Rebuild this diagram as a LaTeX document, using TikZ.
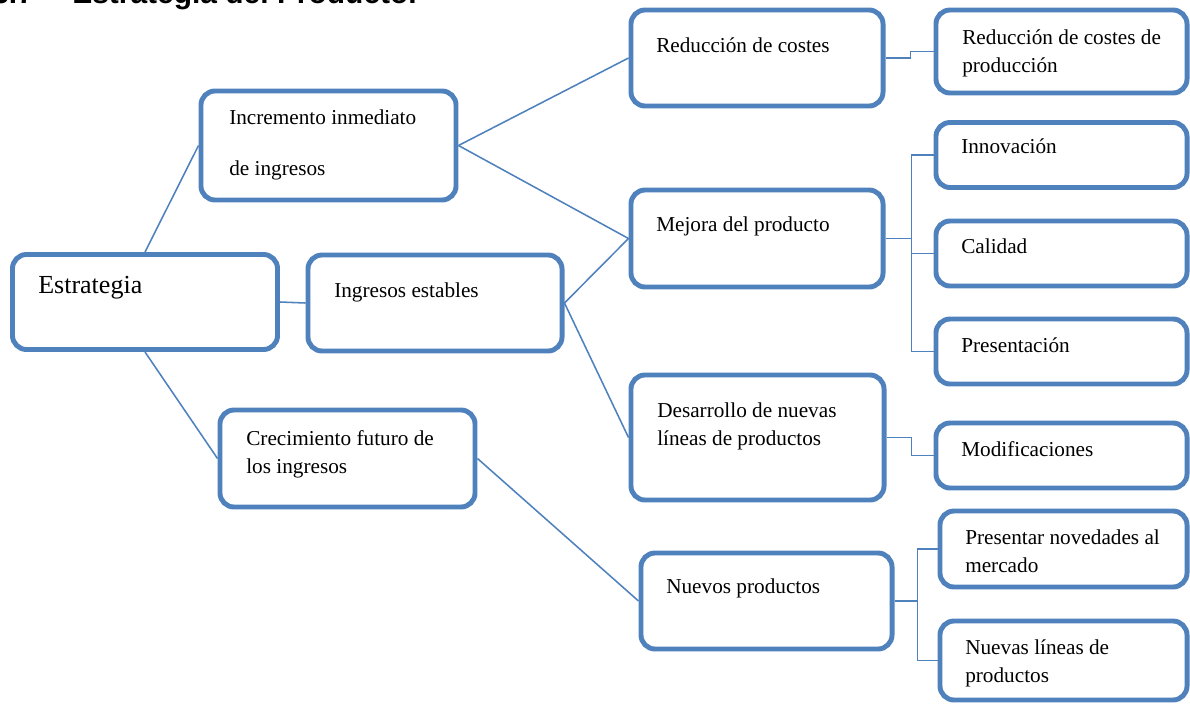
\documentclass[tikz,border=0pt]{standalone}
\usepackage{fontspec}
\setmainfont{Liberation Serif}
\newfontfamily\headfont{Liberation Sans}
\usepackage{tikz}
\usetikzlibrary{positioning,calc,backgrounds}
\definecolor{boxblue}{RGB}{79,129,189}

\begin{document}
\begin{tikzpicture}[x=0.025cm,y=-0.025cm]

\tikzset{box/.style={
  rectangle,
  rounded corners=10pt,
  inner sep=0pt,
  draw=boxblue, fill=white,
  line width=3.5pt,
  minimum width=6.3cm,
  minimum height=2.4cm
  },
  leaf/.style={box, minimum width=6.275cm, minimum height=1.625cm},
  txt/.style={inner sep=0pt, anchor=base west, align=left,
  font=\fontsize{15.1}{19.6}\selectfont},
  link/.style={draw=boxblue, line width=1.1pt}}

\clip (0,0) rectangle (1190,706);

% cut heading
\node[inner sep=0pt, anchor=base west, font=\fontsize{21.3}{24}\headfont\bfseries] (headNum) at (-8,3) {3.7};
\node[inner sep=0pt, anchor=base west, font=\fontsize{21.3}{24}\headfont\bfseries] (headText) at (72,3) {Estrategia del Producto.};

\node[box, minimum width=6.625cm, minimum height=2.375cm] (estr) at (145,302) {};
\node[box, minimum width=6.375cm, minimum height=2.725cm] (incr) at (328.5,145.5) {};
\node[box, minimum width=6.35cm] (ingr) at (435,303) {};
\node[box, minimum width=6.375cm, minimum height=2.425cm] (crec) at (347.5,458.5) {};

\node[box] (redu) at (757,58) {};
\node[box, minimum height=2.425cm] (mejo) at (757,238.5) {};
\node[box, minimum width=6.325cm, minimum height=3.125cm] (desa) at (757.5,437.5) {};
\node[box, minimum width=6.275cm] (nuev) at (766.5,601) {};

\node[leaf, minimum height=2.075cm] (rprod) at (1061.5,51.5) {};
\node[leaf] (inno) at (1061.5,155) {};
\node[leaf] (cali) at (1061.5,253.5) {};
\node[leaf] (pres) at (1061.5,351.5) {};
\node[leaf] (modi) at (1061.5,455.5) {};
\node[leaf, minimum width=6.175cm, minimum height=1.9cm] (pnov) at (1063.5,549) {};
\node[leaf, minimum width=6.175cm, minimum height=1.975cm] (nlin) at (1063.5,660.5) {};

% multi-line texts sit on their last line
\node[txt, font=\fontsize{18.5}{22}\selectfont] (estrT) at (38,293) {Estrategia};
\node[txt] (incrT) at (229,175) {Incremento inmediato\\[0.5625cm]de ingresos};
\node[txt] (ingrT) at (334,297) {Ingresos estables};
\node[txt] (crecT) at (246,473) {Crecimiento futuro de\\los ingresos};
\node[txt] (reduT) at (656,52) {Reducción de costes};
\node[txt] (mejoT) at (656,231) {Mejora del producto};
\node[txt] (desaT) at (657,445) {Desarrollo de nuevas\\líneas de productos};
\node[txt] (nuevT) at (666,593) {Nuevos productos};
\node[txt] (rprodT) at (962,72) {Reducción de costes de\\producción};
\node[txt] (innoT) at (961,153) {Innovación};
\node[txt] (caliT) at (961,253) {Calidad};
\node[txt] (presT) at (961,352) {Presentación};
\node[txt] (modiT) at (961,456) {Modificaciones};
\node[txt] (pnovT) at (965,572) {Presentar novedades al\\mercado};
\node[txt] (nlinT) at (965,682) {Nuevas líneas de\\productos};

\begin{scope}[on background layer]
\path[link] (estr.north) -- (incr.west);
\path[link] (estr.east) -- (ingr.west);
\path[link] (estr.south) -- (crec.west);
\path[link] (incr.east) -- (redu.west);
\path[link] (incr.east) -- (mejo.west);
\path[link] (ingr.east) -- (mejo.west);
\path[link] (ingr.east) -- (desa.west);
\path[link] (crec.east) -- (nuev.west);
\path[link] (redu.east) -- ++(25,0) |- (rprod.west);
\path[link] (mejo.east) -- ++(26,0) coordinate (mejoR);
\path[link] (mejoR) |- (inno.west);
\path[link] (mejoR) |- (cali.west);
\path[link] (mejoR) |- (pres.west);
\path[link] (desa.east) -- ++(25,0) |- (modi.west);
\path[link] (nuev.east) -- ++(23,0) coordinate (nuevR);
\path[link] (nuevR) |- (pnov.west);
\path[link] (nuevR) |- (nlin.west);
\end{scope}
\end{tikzpicture}
\end{document}
